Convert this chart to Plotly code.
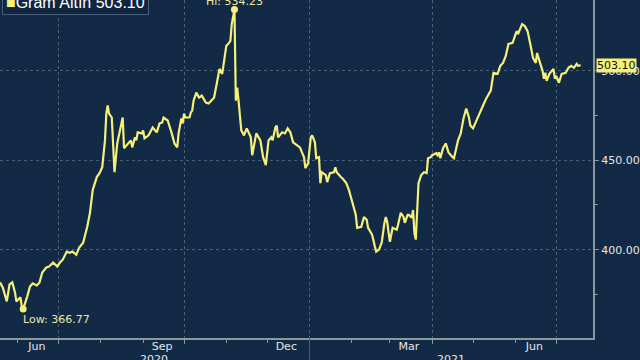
import plotly.graph_objects as go

dates = [
"2020-05-19","2020-05-21","2020-05-24","2020-05-26","2020-05-28","2020-05-30","2020-05-31","2020-06-03","2020-06-04","2020-06-05",
"2020-06-08","2020-06-10","2020-06-12","2020-06-15","2020-06-17","2020-06-19","2020-06-22","2020-06-24","2020-06-27","2020-06-30",
"2020-07-02","2020-07-04","2020-07-07","2020-07-09","2020-07-11","2020-07-14","2020-07-16","2020-07-19","2020-07-22","2020-07-24",
"2020-07-26","2020-07-29","2020-07-31","2020-08-02","2020-08-04","2020-08-05","2020-08-06","2020-08-07","2020-08-09","2020-08-10",
"2020-08-11","2020-08-13","2020-08-16","2020-08-17","2020-08-18","2020-08-20","2020-08-23","2020-08-24","2020-08-26","2020-08-27",
"2020-08-28","2020-08-31","2020-09-01","2020-09-02","2020-09-05","2020-09-08","2020-09-11","2020-09-13","2020-09-15","2020-09-16",
"2020-09-19","2020-09-22","2020-09-24","2020-09-26","2020-09-27","2020-09-29","2020-09-30","2020-10-01","2020-10-02","2020-10-05",
"2020-10-06","2020-10-07","2020-10-08","2020-10-10","2020-10-12","2020-10-14","2020-10-17","2020-10-19","2020-10-23","2020-10-25",
"2020-10-27","2020-10-29","2020-10-30","2020-11-01","2020-11-03","2020-11-04","2020-11-05","2020-11-07","2020-11-08","2020-11-09",
"2020-11-10","2020-11-12","2020-11-14","2020-11-16","2020-11-19","2020-11-20","2020-11-23","2020-11-24","2020-11-26","2020-11-28",
"2020-11-30","2020-12-02","2020-12-04","2020-12-05","2020-12-07","2020-12-08","2020-12-09","2020-12-12","2020-12-14","2020-12-16",
"2020-12-18","2020-12-20","2020-12-23","2020-12-25","2020-12-28","2020-12-29","2020-12-31","2021-01-02","2021-01-03","2021-01-05",
"2021-01-06","2021-01-08","2021-01-09","2021-01-10","2021-01-13","2021-01-14","2021-01-16","2021-01-19","2021-01-20","2021-01-21",
"2021-01-24","2021-01-25","2021-01-28","2021-01-30","2021-02-01","2021-02-04","2021-02-05","2021-02-08","2021-02-10","2021-02-12",
"2021-02-13","2021-02-16","2021-02-18","2021-02-19","2021-02-21","2021-02-23","2021-02-25","2021-02-26","2021-02-27","2021-03-01",
"2021-03-03","2021-03-06","2021-03-07","2021-03-09","2021-03-11","2021-03-12","2021-03-14","2021-03-15","2021-03-17","2021-03-18",
"2021-03-19","2021-03-20","2021-03-22","2021-03-24","2021-03-26","2021-03-28","2021-03-29","2021-03-31","2021-04-01","2021-04-04",
"2021-04-05","2021-04-06","2021-04-07","2021-04-09","2021-04-11","2021-04-13","2021-04-16","2021-04-17","2021-04-20","2021-04-22",
"2021-04-24","2021-04-26","2021-04-28","2021-04-29","2021-05-01","2021-05-04","2021-05-06","2021-05-09","2021-05-11","2021-05-14",
"2021-05-16","2021-05-19","2021-05-21","2021-05-23","2021-05-25","2021-05-27","2021-05-30","2021-06-01","2021-06-02","2021-06-03",
"2021-06-06","2021-06-08","2021-06-10","2021-06-12","2021-06-14","2021-06-16","2021-06-17","2021-06-18","2021-06-21","2021-06-22",
"2021-06-23","2021-06-24","2021-06-26","2021-06-29","2021-06-30","2021-07-01","2021-07-03","2021-07-05","2021-07-08","2021-07-10",
"2021-07-12","2021-07-14","2021-07-16","2021-07-17","2021-07-19",
]
values = [
381.7,378.9,371.1,380.6,381.7,376.1,371.1,373.3,368.3,366.77,
373.9,379.4,381.1,380.0,381.7,387.2,390.0,390.6,392.8,390.6,
392.8,394.4,398.9,398.3,398.9,397.2,401.1,403.9,412.8,420.6,
433.3,440.6,442.8,446.1,461.1,476.1,480.6,476.1,473.9,453.9,
443.3,459.4,470.6,473.9,456.7,458.3,461.1,457.2,462.8,461.1,
465.6,465.0,466.7,462.2,463.9,468.3,465.6,470.6,471.1,473.9,
472.2,465.0,459.4,457.2,465.0,473.3,470.6,476.1,473.9,473.9,
476.7,477.8,483.3,487.8,485.0,486.1,482.2,481.7,485.0,492.8,
501.1,498.3,503.9,513.9,515.6,516.7,526.1,534.23,483.3,490.6,
483.3,466.7,463.9,467.8,462.8,452.8,465.0,463.9,461.1,451.7,
447.2,461.1,462.8,461.1,468.3,469.4,462.8,465.6,465.0,467.8,
465.6,460.0,458.3,457.2,451.7,445.6,448.3,462.8,463.9,460.0,
451.1,451.7,437.2,443.3,441.7,437.8,442.8,443.3,446.1,443.3,
440.6,440.0,437.2,433.3,427.8,419.4,412.2,412.8,418.3,416.7,
412.2,408.3,401.7,398.9,400.0,403.9,415.0,418.3,415.6,404.4,
412.2,411.1,413.9,420.6,418.3,415.0,419.4,419.4,417.8,422.2,
409.4,405.6,437.2,441.7,443.3,442.8,451.1,451.7,452.8,453.9,
452.8,454.4,451.1,456.7,459.4,454.4,451.7,451.1,461.1,465.0,
473.3,478.9,473.9,469.4,467.8,473.3,476.1,481.7,485.0,488.9,
498.9,498.3,502.8,504.4,508.3,515.0,515.6,520.6,522.2,520.6,
526.1,525.0,522.2,515.0,507.2,504.4,510.0,507.2,500.0,495.6,
498.9,494.4,498.3,501.1,495.6,497.2,493.3,498.3,498.9,501.7,
502.8,501.7,503.9,502.8,503.10,
]

series_name = "Gram Altın"
hi_date, hi_value = "2020-11-07", 534.23
low_date, low_value = "2020-06-05", 366.77
last_value = 503.10

x_range = ["2020-05-19", "2021-07-28"]
y_range = [350.6, 539.6]
y_ticks = [400, 450, 500]
y_minor = [375, 425, 475]
quarter_starts = ["2020-07-01", "2020-10-01", "2021-01-01", "2021-04-01", "2021-07-01"]
month_starts = ["2020-06-01", "2020-08-01", "2020-09-01", "2020-11-01", "2020-12-01",
                "2021-02-01", "2021-03-01", "2021-05-01", "2021-06-01"]
label_dates = ["2020-06-15", "2020-09-15", "2020-12-15", "2021-03-15", "2021-06-15"]
label_text = ["Jun", "Sep", "Dec", "Mar", "Jun"]
year_dates = ["2020-09-09", "2021-04-15"]
year_text = ["2020", "2021"]
year_split = "2021-01-01"

BG = "#122a46"
GRID = "#4a5e76"
AXIS = "#8a9a98"
LINE = "#f5f07a"
TXT = "#e6e6e6"
ANN = "#ece8a6"
FONT = "DejaVu Sans"

fig = go.Figure()
fig.add_trace(go.Scatter(x=dates, y=values, mode="lines", line=dict(color=LINE, width=2.2),
                         showlegend=False, hoverinfo="skip"))
fig.add_trace(go.Scatter(x=[hi_date, low_date], y=[hi_value, low_value], mode="markers",
                         marker=dict(color=LINE, size=7), showlegend=False, hoverinfo="skip"))
fig.add_trace(go.Scatter(x=x_range, y=[None, None], xaxis="x2", showlegend=False, hoverinfo="skip"))

fig.update_layout(
    width=640, height=360,
    margin=dict(l=0, r=44, t=0, b=22),
    paper_bgcolor=BG, plot_bgcolor=BG,
    font=dict(family=FONT, color=TXT, size=11),
    xaxis=dict(type="date", range=x_range, tickmode="array", tickvals=quarter_starts,
               showticklabels=False, ticks="outside", ticklen=4, tickcolor=AXIS,
               showgrid=True, gridcolor=GRID, griddash="dot", gridwidth=1,
               showline=True, linecolor=AXIS, linewidth=2, zeroline=False,
               minor=dict(tickmode="array", tickvals=month_starts, ticks="outside",
                          ticklen=3, tickcolor=AXIS, showgrid=False)),
    xaxis2=dict(type="date", overlaying="x", matches="x", side="bottom", tickmode="array",
                tickvals=label_dates, ticktext=label_text, ticks="", showgrid=False,
                showline=False, zeroline=False, tickfont=dict(size=11, color=TXT)),
    yaxis=dict(side="right", range=y_range, tickmode="array", tickvals=y_ticks,
               tickformat=".2f", ticks="outside", ticklen=4, tickcolor=AXIS,
               showgrid=True, gridcolor=GRID, griddash="dot", gridwidth=1,
               showline=True, linecolor=AXIS, linewidth=2, zeroline=False,
               tickfont=dict(size=11, color=TXT),
               minor=dict(tickmode="array", tickvals=y_minor, ticks="outside",
                          ticklen=3, tickcolor=AXIS, showgrid=False)),
)

fig.add_shape(type="line", xref="x", yref="paper", x0=year_split, x1=year_split,
              y0=0, y1=-0.08, line=dict(color=GRID, width=1))

for d, t in zip(year_dates, year_text):
    fig.add_annotation(x=d, xref="x", y=0, yref="paper", yanchor="top", yshift=-13,
                       text=t, showarrow=False, font=dict(size=11, color=TXT))

fig.add_annotation(x=hi_date, y=hi_value, text=f"Hi: {hi_value:.2f}", showarrow=False,
                   yanchor="bottom", yshift=0, font=dict(size=11, color=ANN))
fig.add_annotation(x=low_date, y=low_value, text=f"Low: {low_value:.2f}", showarrow=False,
                   xanchor="left", yanchor="top", yshift=-2, xshift=-2,
                   font=dict(size=11, color=ANN))
fig.add_annotation(x=1, xref="paper", y=last_value, yref="y", xanchor="left", xshift=3,
                   text=f"{last_value:.2f}", showarrow=False, bgcolor=LINE,
                   font=dict(size=11, color="#111111"), borderpad=0)
fig.add_annotation(x=0, xref="paper", y=1, yref="paper", xanchor="left", yanchor="bottom",
                   yshift=-15, xshift=2,
                   text=f"<span style='color:{LINE}'>■</span>{series_name} {last_value:.2f}",
                   showarrow=False, bordercolor="#4a5e78", borderwidth=1, borderpad=3,
                   bgcolor="#10253f", font=dict(size=16, color="#ffffff", family="Liberation Sans"))

fig.write_html("out.html")
